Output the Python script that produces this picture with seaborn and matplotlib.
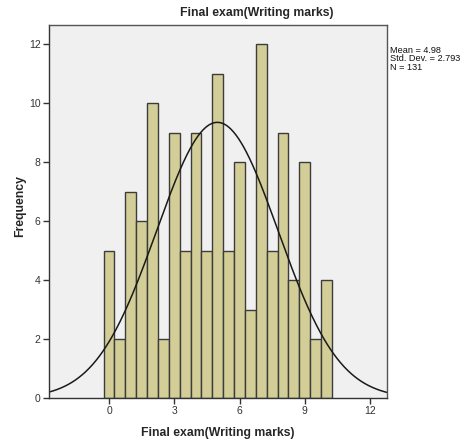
import numpy as np
import pandas as pd
import matplotlib
matplotlib.use("Agg")
import matplotlib.pyplot as plt
import seaborn as sns

# Data (bin centres and counts)
marks = [0, 0.5, 1, 1.5, 2, 2.5, 3, 3.5, 4, 4.5, 5, 5.5, 6, 6.5, 7, 7.5, 8, 8.5, 9, 9.5, 10]
counts = [5, 2, 7, 6, 10, 2, 9, 5, 9, 5, 11, 5, 8, 3, 12, 5, 9, 4, 8, 2, 4]
mean_val = 4.98
std_val = 2.793
n_total = 131
x_ticks = [0, 3, 6, 9, 12]
y_ticks = [0, 2, 4, 6, 8, 10, 12]

sns.set_style("white")
plt.rcParams['font.family'] = ['Liberation Sans', 'DejaVu Sans']

df = pd.DataFrame({"mark": marks, "count": counts})

fig = plt.figure(figsize=(4.64, 4.4), dpi=100)
ax = fig.add_axes([49/464, 42/440, (387-49)/464, (398-25)/440])
ax.set_facecolor("#F0F0F0")

sns.histplot(data=df, x="mark", weights="count", binwidth=0.5, binrange=(-0.25, 10.25),
             color="#D3CE97", edgecolor="#3C3C3C", linewidth=1.0, alpha=1.0, ax=ax)

xs = np.linspace(-2.8, 12.8, 400)
ys = n_total * 0.5 / (std_val * np.sqrt(2 * np.pi)) * np.exp(-0.5 * ((xs - mean_val) / std_val) ** 2)
sns.lineplot(x=xs, y=ys, color="#1A1A1A", linewidth=1.1, ax=ax)

ax.set_xlim(-2.76, 12.78)
ax.set_ylim(0, 12.66)
ax.set_xticks(x_ticks)
ax.set_yticks(y_ticks)
ax.tick_params(axis="both", direction="out", length=4, width=1, color="#333333",
               labelsize=7.5, labelcolor="#333333", pad=2, left=True, bottom=True)
for s in ax.spines.values():
    s.set_color("#555555")
    s.set_linewidth(1)
ax.spines["left"].set_color("#333333")
ax.spines["bottom"].set_color("#333333")

ax.set_title("")
ax.set_xlabel("")
ax.set_ylabel("")
fig.text(257/464, 1 - 13/440, "Final exam(Writing marks)", fontsize=8.8, fontweight="bold",
         ha="center", va="center")
fig.text(218/464, 1 - 433/440, "Final exam(Writing marks)", fontsize=8.8, fontweight="bold",
         ha="center", va="center")
fig.text(20/464, 1 - 206/440, "Frequency", fontsize=8.8, fontweight="bold",
         ha="center", va="center", rotation=90)

fig.text(390/464, 1 - 46/440, f"Mean = {mean_val}\nStd. Dev. = {std_val}\nN = {n_total}",
         fontsize=6.6, va="top", ha="left", linespacing=0.9, color="#111111")

fig.savefig("out.png", dpi=100)
